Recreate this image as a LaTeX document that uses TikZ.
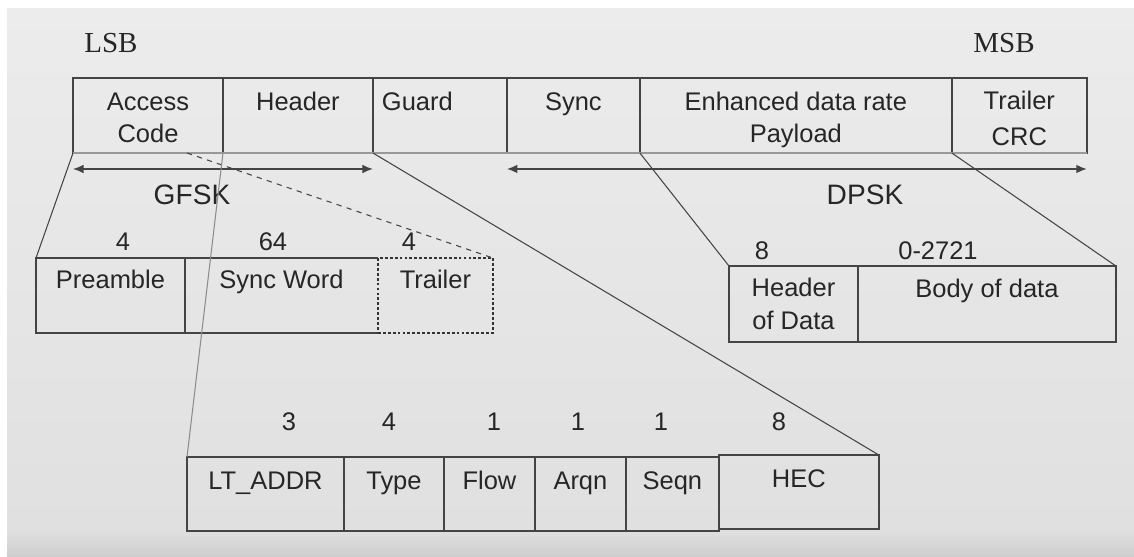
\documentclass[tikz,border=0pt]{standalone}
\usepackage{fontspec}
\setmainfont{Liberation Sans}
\newfontfamily\bitfont{Liberation Serif}
\usetikzlibrary{positioning,arrows.meta}

\definecolor{paperhi}{RGB}{236,236,236}
\definecolor{paperlo}{RGB}{224,224,224}
\definecolor{paperdk}{RGB}{206,206,206}
\definecolor{ink}{RGB}{38,38,38}
\definecolor{rule}{RGB}{68,68,68}

\tikzset{
  boxline/.style={draw=rule, line width=0.9pt},
  pktfield/.style 2 args={boxline, inner sep=0pt, outer sep=0pt, align=center,
    text height=#1, text depth=#2, text=ink, font=\fontsize{14.5}{18.5}\selectfont},
  toprow/.style={pktfield={0.64cm}{0.86cm}},
  acrow/.style={pktfield={0.60cm}{0.90cm}},
  payrow/.style={pktfield={0.62cm}{0.90cm}},
  hdrrow/.style={pktfield={0.64cm}{0.84cm}},
  bits/.style={text=ink, inner sep=0pt, font=\fontsize{14.5}{17}\selectfont},
  bitend/.style={text=ink, inner sep=0pt, font=\bitfont\fontsize{16.5}{19}\selectfont},
  modlbl/.style={text=ink, inner sep=0pt, font=\fontsize{16}{19}\selectfont},
  modspan/.style={draw=rule, line width=0.9pt, {Latex[length=6pt,width=5pt]}-{Latex[length=6pt,width=5pt]}},
  zoomline/.style={draw=rule, line width=0.6pt},
}

\begin{document}
\begin{tikzpicture}[x=0.02cm, y=-0.02cm]
  \useasboundingbox (0,0) rectangle (1134,556);

  % Background
  \fill[white] (0,0) rectangle (1134,556);
  \shade[top color=paperhi, bottom color=paperlo] (7,8) rectangle (1134,530);
  \shade[top color=paperlo, bottom color=paperdk] (7,530) rectangle (1134,556);

  \node[bitend] (lsb) at (111,43) {LSB};
  \node[bitend] (msb) at (1004,43) {MSB};

  % Packet
  \node[toprow, text height=1.3cm, text depth=0.2cm, minimum width=3cm, anchor=north west] (ac) at (73,78) {Access\\Code};
  \node[toprow, minimum width=3cm, right=0pt of ac] (hdr) {Header};
  \node[toprow, align=left, text width=2.32cm, inner xsep=0.18cm, right=0pt of hdr] (guard) {Guard};
  \node[toprow, minimum width=2.66cm, right=0pt of guard] (sync) {Sync};
  \node[toprow, text height=1.3cm, text depth=0.2cm, minimum width=6.24cm, right=0pt of sync] (edr) {Enhanced data rate\\Payload};
  \node[toprow, text height=1.36cm, text depth=0.14cm, minimum width=2.7cm, right=0pt of edr] (crc) {Trailer\\[2pt]CRC};
  \draw[black!40, line width=1.6pt] (ac.south west) -- (crc.south east);

  % Modulation
  \coordinate (gfskL) at ([yshift=-0.32cm]ac.south west);
  \coordinate (gfskR) at ([yshift=-0.32cm]hdr.south east);
  \coordinate (dpskL) at ([yshift=-0.32cm]guard.south east);
  \coordinate (dpskR) at ([yshift=-0.32cm]crc.south east);
  \draw[modspan] (gfskL) -- (gfskR);
  \draw[modspan] (dpskL) -- (dpskR);
  \node[modlbl] (gfsk) at (192,195) {GFSK};
  \node[modlbl] (dpsk) at (865,195) {DPSK};

  % Access code
  \node[bits] (npre) at (123,242) {4};
  \node[bits] (nsw) at (273,242) {64};
  \node[bits] (ntrl) at (409,242) {4};
  \node[acrow, minimum width=2.98cm, anchor=north west] (pre) at (36,258) {Preamble};
  \node[acrow, draw=none, minimum width=3.86cm, right=0pt of pre] (sw) {Sync Word};
  \draw[boxline] (sw.north east) -- (sw.north west) -- (sw.south west) -- (sw.south east);
  \node[acrow, draw=black!80, dash pattern=on 1.6pt off 1.2pt, line width=1.6pt, minimum width=2.3cm, right=0pt of sw] (trl) {Trailer};

  % Payload
  \node[bits] (nhod) at (762,251) {8};
  \node[bits] (nbod) at (938,251) {0-2721};
  \node[payrow, text height=1.27cm, text depth=0.25cm, minimum width=2.58cm, anchor=north west] (hod) at (729,266) {Header\\of Data};
  \node[payrow, minimum width=5.16cm, right=0pt of hod] (bod) {Body of data};

  % Header
  \node[bits] (nlt) at (289,422) {3};
  \node[bits] (ntype) at (389,422) {4};
  \node[bits] (nflow) at (494,422) {1};
  \node[bits] (narqn) at (578,422) {1};
  \node[bits] (nseqn) at (661,422) {1};
  \node[bits] (nhec) at (779,422) {8};
  \node[hdrrow, minimum width=3.14cm, anchor=north west] (lt) at (187,457) {LT\_ADDR};
  \node[hdrrow, minimum width=2cm, right=0pt of lt] (type) {Type};
  \node[hdrrow, minimum width=1.82cm, right=0pt of type] (flow) {Flow};
  \node[hdrrow, minimum width=1.82cm, right=0pt of flow] (arqn) {Arqn};
  \node[hdrrow, minimum width=1.86cm, right=0pt of arqn] (seqn) {Seqn};
  \node[hdrrow, minimum width=3.2cm, right=0pt of seqn, yshift=0.04cm] (hec) {HEC};

  % Zoom lines
  \draw[zoomline] (ac.south west) -- (pre.north west);
  \draw[zoomline, dashed] ([xshift=0.78cm]ac.south) -- (trl.north east);
  \draw[zoomline, draw=black!45] (hdr.south west) -- (lt.north west);
  \draw[zoomline] (guard.south west) -- (hec.north east);
  \draw[zoomline] (edr.south west) -- (hod.north west);
  \draw[zoomline] (edr.south east) -- (bod.north east);

\end{tikzpicture}
\end{document}
